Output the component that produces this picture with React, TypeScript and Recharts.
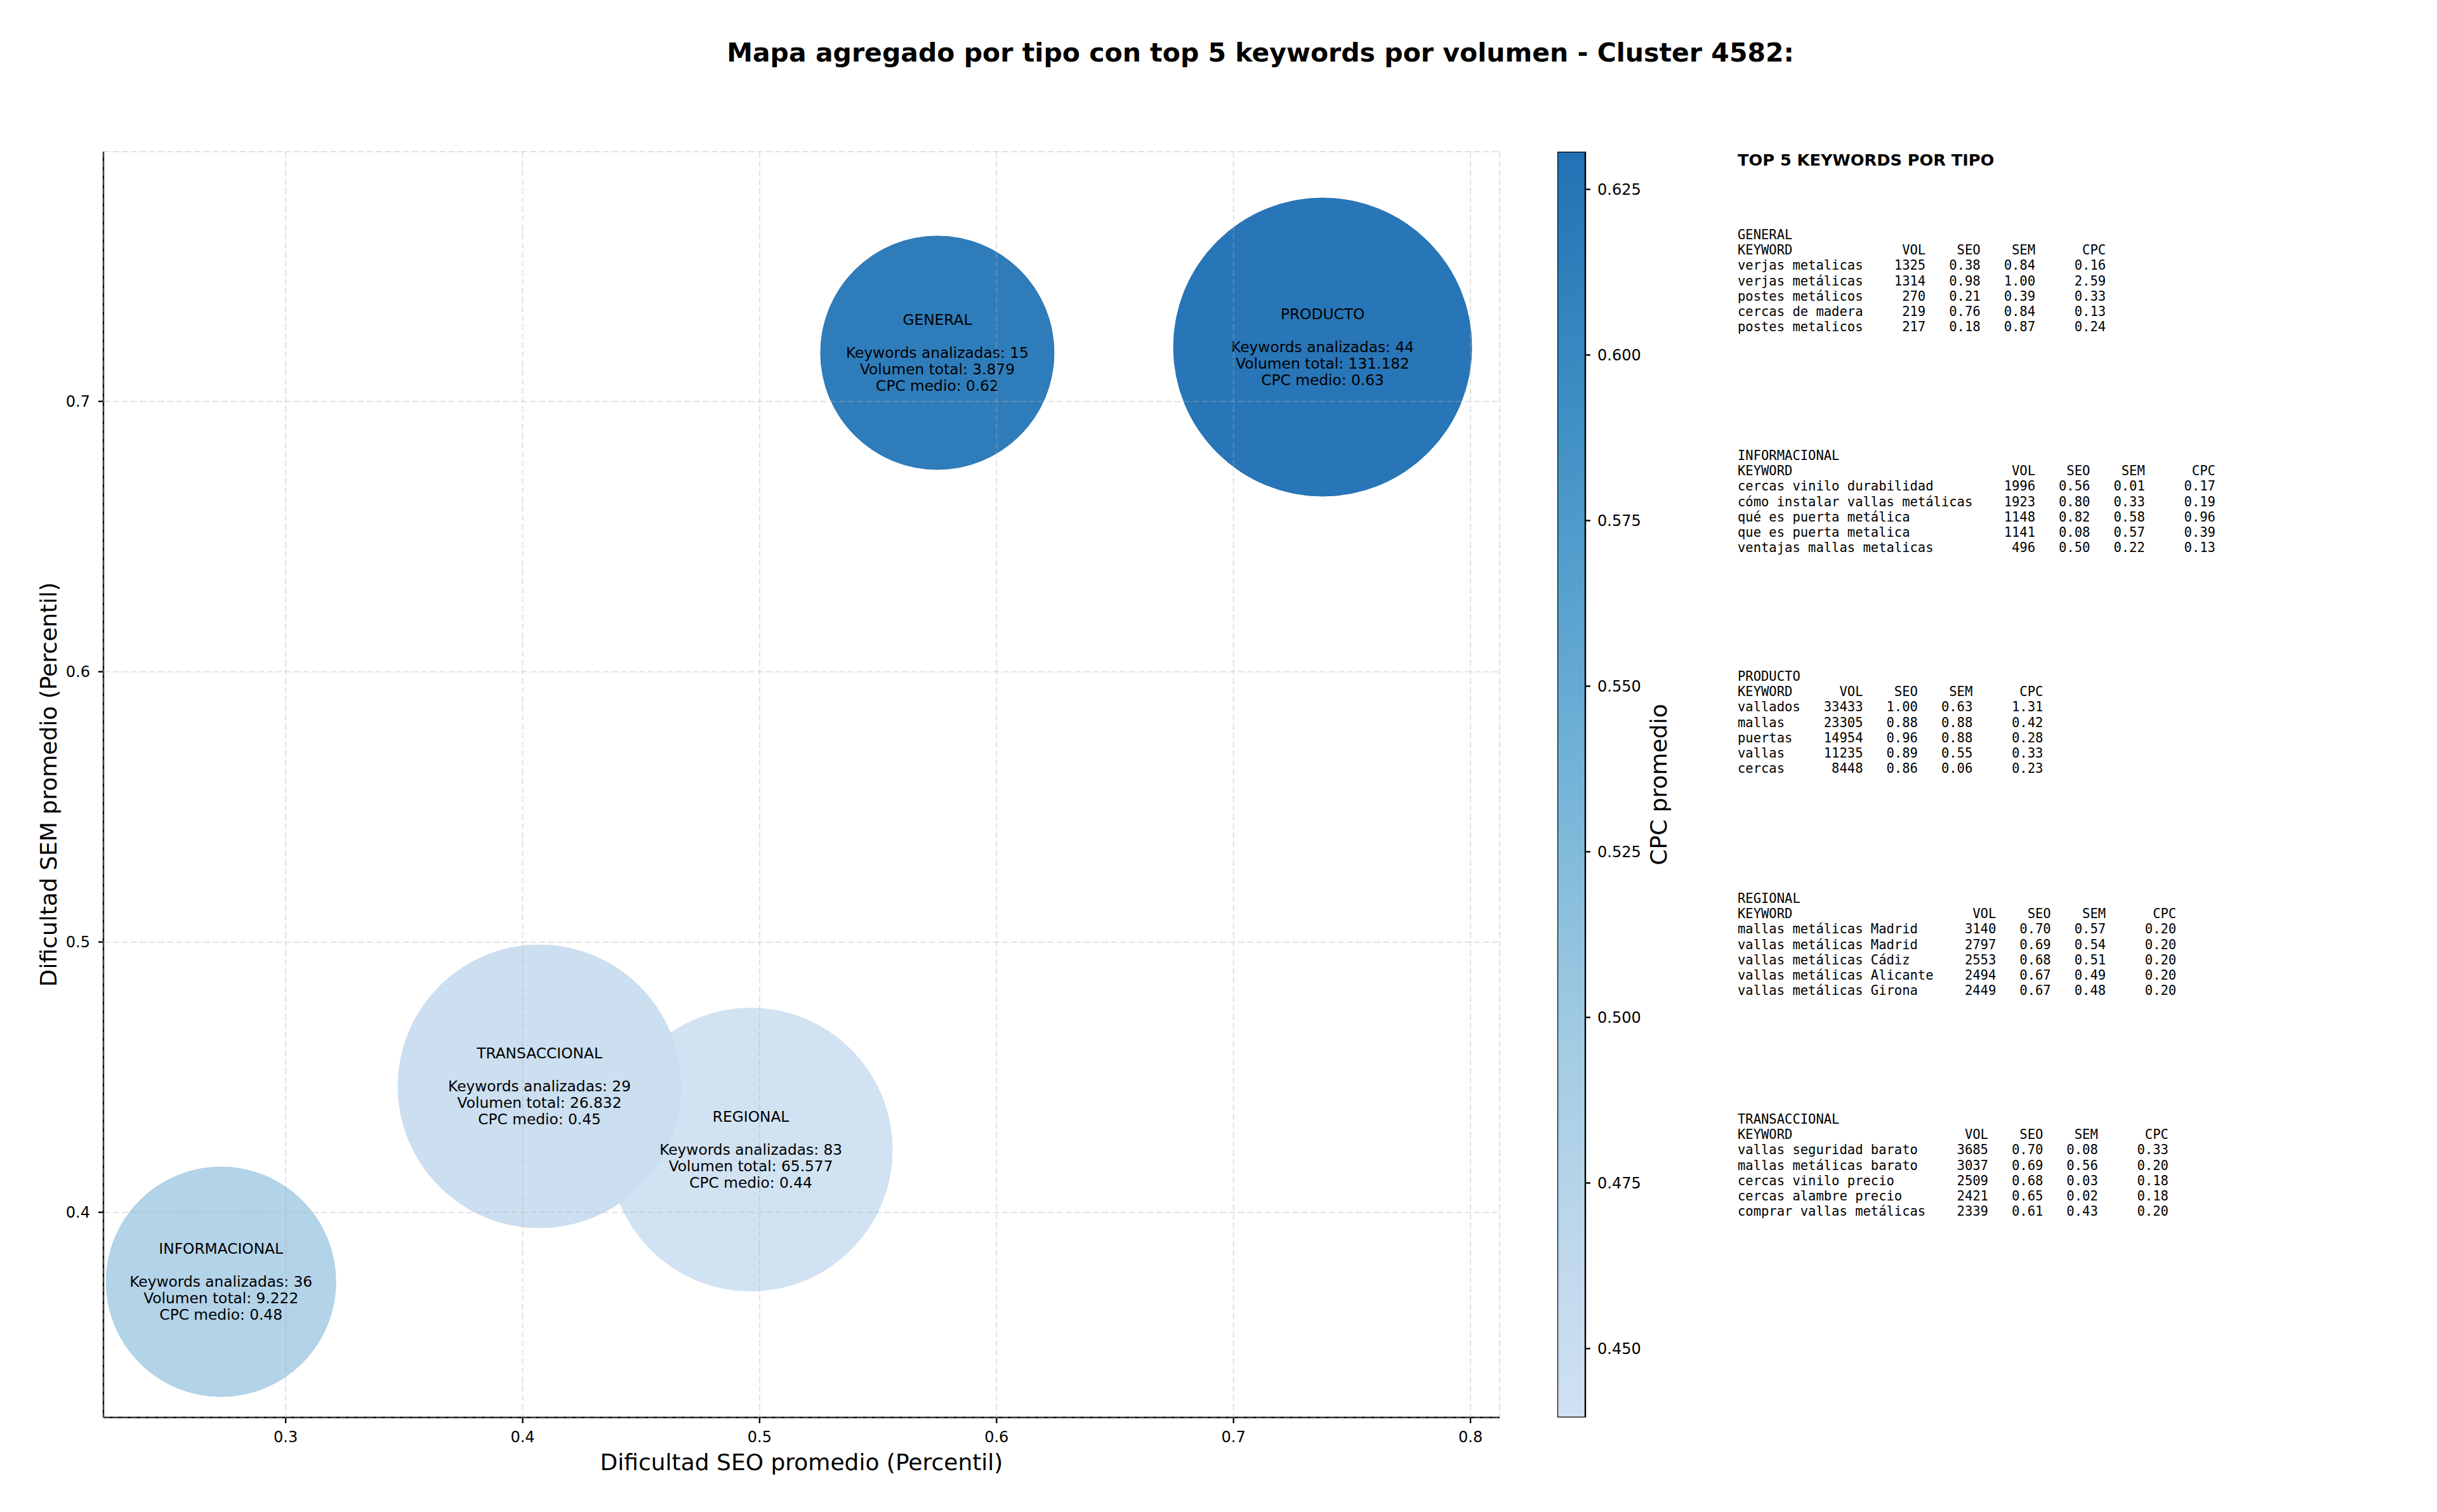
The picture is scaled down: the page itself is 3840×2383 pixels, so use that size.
import React from 'react';
import {
  ScatterChart,
  Scatter,
  XAxis,
  YAxis,
  ZAxis,
  CartesianGrid,
  Label,
  ComposedChart,
  Bar,
} from 'recharts';

// ---------- data ----------
const types = ['GENERAL', 'INFORMACIONAL', 'PRODUCTO', 'REGIONAL', 'TRANSACCIONAL'];
const seoAvg = [0.575, 0.2727, 0.7376, 0.4963, 0.4071];
const semAvg = [0.718, 0.3743, 0.7201, 0.4232, 0.4466];
const keywordCounts = [15, 36, 44, 83, 29];
const totalVolumes = [3879, 9222, 131182, 65577, 26832];
const cpcAvg = [0.622, 0.48, 0.6307, 0.4396, 0.45];
// marker size (points^2, like matplotlib "s")
const bubbleSizes = [12190, 11800, 19880, 17900, 17900];

const xTicks = [0.3, 0.4, 0.5, 0.6, 0.7, 0.8];
const yTicks = [0.4, 0.5, 0.6, 0.7];
const cbTicks = [0.45, 0.475, 0.5, 0.525, 0.55, 0.575, 0.6, 0.625];

type Row = [string, number, number, number, number];

const generalTop: Row[] = [
  ['verjas metalicas', 1325, 0.38, 0.84, 0.16],
  ['verjas metálicas', 1314, 0.98, 1.0, 2.59],
  ['postes metálicos', 270, 0.21, 0.39, 0.33],
  ['cercas de madera', 219, 0.76, 0.84, 0.13],
  ['postes metalicos', 217, 0.18, 0.87, 0.24],
];
const informacionalTop: Row[] = [
  ['cercas vinilo durabilidad', 1996, 0.56, 0.01, 0.17],
  ['cómo instalar vallas metálicas', 1923, 0.8, 0.33, 0.19],
  ['qué es puerta metálica', 1148, 0.82, 0.58, 0.96],
  ['que es puerta metalica', 1141, 0.08, 0.57, 0.39],
  ['ventajas mallas metalicas', 496, 0.5, 0.22, 0.13],
];
const productoTop: Row[] = [
  ['vallados', 33433, 1.0, 0.63, 1.31],
  ['mallas', 23305, 0.88, 0.88, 0.42],
  ['puertas', 14954, 0.96, 0.88, 0.28],
  ['vallas', 11235, 0.89, 0.55, 0.33],
  ['cercas', 8448, 0.86, 0.06, 0.23],
];
const regionalTop: Row[] = [
  ['mallas metálicas Madrid', 3140, 0.7, 0.57, 0.2],
  ['vallas metálicas Madrid', 2797, 0.69, 0.54, 0.2],
  ['vallas metálicas Cádiz', 2553, 0.68, 0.51, 0.2],
  ['vallas metálicas Alicante', 2494, 0.67, 0.49, 0.2],
  ['vallas metálicas Girona', 2449, 0.67, 0.48, 0.2],
];
const transaccionalTop: Row[] = [
  ['vallas seguridad barato', 3685, 0.7, 0.08, 0.33],
  ['mallas metálicas barato', 3037, 0.69, 0.56, 0.2],
  ['cercas vinilo precio', 2509, 0.68, 0.03, 0.18],
  ['cercas alambre precio', 2421, 0.65, 0.02, 0.18],
  ['comprar vallas metálicas', 2339, 0.61, 0.43, 0.2],
];
const topTables = [generalTop, informacionalTop, productoTop, regionalTop, transaccionalTop];

// ---------- styling helpers ----------
const SANS = "'DejaVu Sans', Verdana, sans-serif";
const MONO = "'DejaVu Sans Mono', monospace";
const DPI_SCALE = 240 / 72;
const AREA_PER_UNIT = (Math.PI / 4) * DPI_SCALE * DPI_SCALE;
const Z_MAX = 25000;

const BLUES = ['#f7fbff', '#deebf7', '#c6dbef', '#9ecae1', '#6baed6', '#4292c6', '#2171b5', '#08519c', '#08306b'];
const hex2rgb = (h: string) => [1, 3, 5].map((i) => parseInt(h.slice(i, i + 2), 16));
const blues = (t: number) => {
  const p = Math.max(0, Math.min(1, t)) * (BLUES.length - 1);
  const i = Math.min(Math.floor(p), BLUES.length - 2);
  const f = p - i;
  const a = hex2rgb(BLUES[i]);
  const b = hex2rgb(BLUES[i + 1]);
  const c = a.map((v, k) => Math.round(v + (b[k] - v) * f));
  return `rgb(${c[0]},${c[1]},${c[2]})`;
};
const cbMin = Math.min(...cpcAvg);
const cbMax = Math.max(...cpcAvg);
const T_LO = 0.2;
const T_HI = 0.75;
const cpcColor = (c: number) => blues(T_LO + ((c - cbMin) / (cbMax - cbMin)) * (T_HI - T_LO));

const fmtThousands = (n: number) => String(n).replace(/\B(?=(\d{3})+(?!\d))/g, '.');

const points = types.map((t, i) => ({
  type: t,
  seo: seoAvg[i],
  sem: semAvg[i],
  size: bubbleSizes[i],
  count: keywordCounts[i],
  volume: totalVolumes[i],
  cpc: cpcAvg[i],
  color: cpcColor(cpcAvg[i]),
}));

const Bubble = (props: any) => {
  const { cx, cy, payload } = props;
  const r = props.width ? props.width / 2 : Math.sqrt((props.size || 0) / Math.PI);
  return <circle cx={cx} cy={cy} r={r} fill={payload.color} fillOpacity={0.97} stroke={payload.color} strokeWidth={1} />;
};

const BubbleText = (props: any) => {
  const { cx, cy, payload } = props;
  const lines = [
    payload.type,
    '',
    `Keywords analizadas: ${payload.count}`,
    `Volumen total: ${fmtThousands(payload.volume)}`,
    `CPC medio: ${payload.cpc.toFixed(2)}`,
  ];
  return (
    <text textAnchor="middle" fontSize={23.3} fontFamily={SANS} fill="#000">
      {lines.map((l, i) => (
        <tspan key={i} x={cx} y={cy + (i - 2) * 26} dy="0.35em">
          {l}
        </tspan>
      ))}
    </text>
  );
};

const XLabel = (props: any) => {
  const vb = props.viewBox;
  return (
    <text x={vb.x + vb.width / 2} y={vb.y + 70} textAnchor="middle" dominantBaseline="central" fontSize={36} fontFamily={SANS} fill="#000">
      Dificultad SEO promedio (Percentil)
    </text>
  );
};

const YLabel = (props: any) => {
  const vb = props.viewBox;
  const x = vb.x + 76;
  const y = vb.y + vb.height / 2;
  return (
    <text x={x} y={y} transform={`rotate(-90, ${x}, ${y})`} textAnchor="middle" dominantBaseline="central" fontSize={36} fontFamily={SANS} fill="#000">
      Dificultad SEM promedio (Percentil)
    </text>
  );
};

const CbLabel = (props: any) => {
  const vb = props.viewBox;
  const x = vb.x + 115;
  const y = vb.y + vb.height / 2;
  return (
    <text x={x} y={y} transform={`rotate(-90, ${x}, ${y})`} textAnchor="middle" dominantBaseline="central" fontSize={36} fontFamily={SANS} fill="#000">
      CPC promedio
    </text>
  );
};

const tableLines = (name: string, rows: Row[]) => {
  const w = Math.max(...rows.map((r) => r[0].length));
  const fmtRow = (a: string, b: string, c: string, d: string, e: string) =>
    a.padEnd(w) + b.padStart(8) + c.padStart(7) + d.padStart(7) + e.padStart(9);
  return [
    name,
    fmtRow('KEYWORD', 'VOL', 'SEO', 'SEM', 'CPC'),
    ...rows.map((r) => fmtRow(r[0], String(r[1]), r[2].toFixed(2), r[3].toFixed(2), r[4].toFixed(2))),
  ].join('\n');
};

const blockTops = [358, 706, 1054, 1404, 1752];

const cbData = [{ name: 'cb', range: [cbMin, cbMax] }];
const cbStops = [0, 0.1, 0.2, 0.3, 0.4, 0.5, 0.6, 0.7, 0.8, 0.9, 1];

const axisStroke = { stroke: '#000', strokeWidth: 2.4 };
const tickStyle = { fill: '#000', fontSize: 24, fontFamily: SANS };

export default function App() {
  return (
    <div style={{ position: 'absolute', left: 0, top: 0, width: 3840, height: 2383, background: '#fff', overflow: 'hidden' }}>
      <div style={{ position: 'absolute', left: 0, top: 0 }}>
        <ScatterChart width={3840} height={2383} margin={{ top: 239, right: 1477, bottom: 0, left: 0 }}>
          <XAxis
            type="number"
            dataKey="seo"
            domain={[0.2231, 0.8123]}
            allowDataOverflow
            ticks={xTicks}
            interval={0}
            tickFormatter={(v: number) => String(v)}
            height={149}
            axisLine={axisStroke}
            tickLine={axisStroke}
            tickSize={9}
            tickMargin={13}
            tick={tickStyle}
          >
            <Label content={XLabel} />
          </XAxis>
          <YAxis
            type="number"
            dataKey="sem"
            domain={[0.3241, 0.7924]}
            allowDataOverflow
            ticks={yTicks}
            interval={0}
            tickFormatter={(v: number) => String(v)}
            width={163}
            axisLine={axisStroke}
            tickLine={axisStroke}
            tickSize={8}
            tickMargin={13}
            tick={tickStyle}
          >
            <Label content={YLabel} />
          </YAxis>
          <ZAxis type="number" dataKey="size" domain={[0, Z_MAX]} range={[0, Z_MAX * AREA_PER_UNIT]} />
          <Scatter data={points} shape={Bubble} isAnimationActive={false} />
          <CartesianGrid stroke="#b0b0b0" strokeOpacity={0.35} strokeWidth={2} strokeDasharray="10 4.3" zIndex={700} />
          <Scatter data={points} shape={BubbleText} isAnimationActive={false} />
        </ScatterChart>
      </div>

      <div style={{ position: 'absolute', left: 2454, top: 0 }}>
        <ComposedChart width={244} height={2383} data={cbData} margin={{ top: 239, right: 0, bottom: 149, left: 0 }} barCategoryGap={0}>
          <defs>
            <linearGradient id="cbGrad" x1="0" y1="1" x2="0" y2="0">
              {cbStops.map((s) => (
                <stop key={s} offset={s} stopColor={blues(T_LO + s * (T_HI - T_LO))} />
              ))}
            </linearGradient>
          </defs>
          <XAxis type="category" dataKey="name" hide />
          <YAxis
            orientation="right"
            type="number"
            domain={[cbMin, cbMax]}
            allowDataOverflow
            ticks={cbTicks}
            interval={0}
            tickFormatter={(v: number) => v.toFixed(3)}
            width={200}
            axisLine={false}
            tickLine={axisStroke}
            tickSize={8}
            tickMargin={11}
            tick={tickStyle}
          >
            <Label content={CbLabel} />
          </YAxis>
          <Bar dataKey="range" fill="url(#cbGrad)" stroke="#000" strokeWidth={2.4} isAnimationActive={false} />
        </ComposedChart>
      </div>

      <div
        style={{
          position: 'absolute',
          left: 1986,
          top: 63,
          transform: 'translateX(-50%)',
          whiteSpace: 'nowrap',
          fontFamily: SANS,
          fontWeight: 'bold',
          fontSize: 41,
          lineHeight: '41px',
          color: '#000',
        }}
      >
        Mapa agregado por tipo con top 5 keywords por volumen - Cluster 4582:
      </div>

      <div
        style={{
          position: 'absolute',
          left: 2738,
          top: 240,
          whiteSpace: 'nowrap',
          fontFamily: SANS,
          fontWeight: 'bold',
          fontSize: 25.6,
          lineHeight: '25.6px',
          color: '#000',
        }}
      >
        TOP 5 KEYWORDS POR TIPO
      </div>

      {types.map((t, i) => (
        <pre
          key={t}
          style={{
            position: 'absolute',
            left: 2738,
            top: blockTops[i],
            margin: 0,
            fontFamily: MONO,
            fontSize: 20.5,
            lineHeight: '24.2px',
            color: '#000',
          }}
        >
          {tableLines(t, topTables[i])}
        </pre>
      ))}
    </div>
  );
}
